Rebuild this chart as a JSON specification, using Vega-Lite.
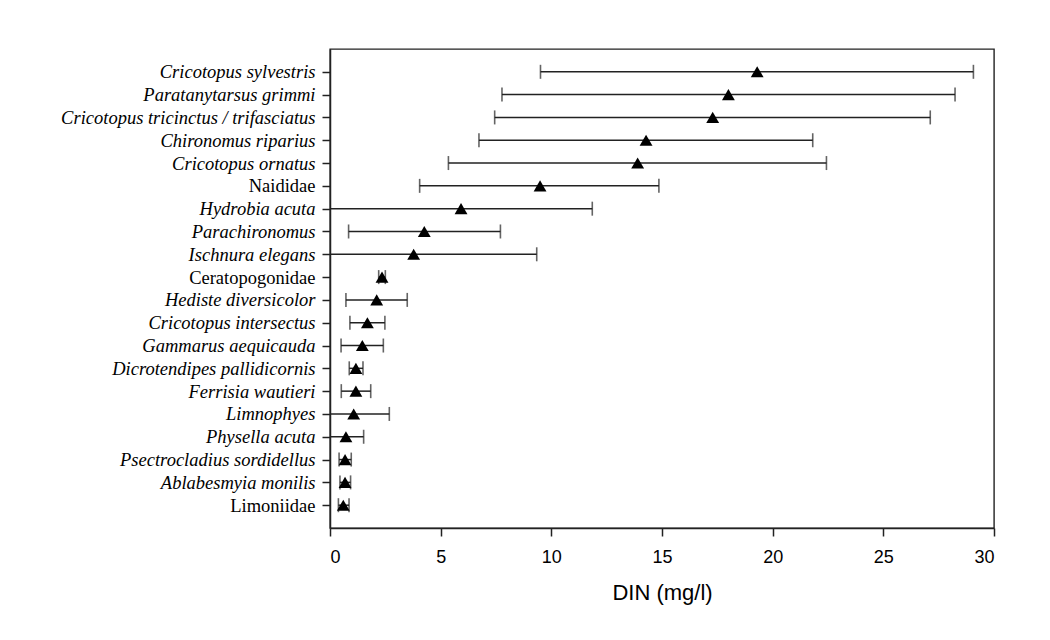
{
  "$schema": "https://vega.github.io/schema/vega-lite/v6.json",
  "autosize": {"type": "none"},
  "padding": {"left": 330, "top": 49, "right": 56, "bottom": 112},
  "width": 664,
  "height": 479,
  "background": "white",
  "config": {
    "view": {"stroke": "#222222", "strokeWidth": 1.4},
    "axis": {"grid": false, "domainColor": "#222222", "domainWidth": 1.5, "tickColor": "#222222", "tickWidth": 1.5, "tickSize": 8, "labelColor": "#000000", "titleColor": "#000000"}
  },
  "data": {
    "values": [
      {"taxon": "Cricotopus sylvestris", "mean": 19.3, "lo": 9.51, "hi": 29.07},
      {"taxon": "Paratanytarsus grimmi", "mean": 18.0, "lo": 7.77, "hi": 28.24},
      {"taxon": "Cricotopus tricinctus / trifasciatus", "mean": 17.29, "lo": 7.44, "hi": 27.12},
      {"taxon": "Chironomus riparius", "mean": 14.28, "lo": 6.73, "hi": 21.81},
      {"taxon": "Cricotopus ornatus", "mean": 13.9, "lo": 5.35, "hi": 22.43},
      {"taxon": "Naididae", "mean": 9.49, "lo": 4.05, "hi": 14.86},
      {"taxon": "Hydrobia acuta", "mean": 5.92, "lo": -0.01, "hi": 11.85},
      {"taxon": "Parachironomus", "mean": 4.26, "lo": 0.84, "hi": 7.7},
      {"taxon": "Ischnura elegans", "mean": 3.78, "lo": -1.78, "hi": 9.34},
      {"taxon": "Ceratopogonidae", "mean": 2.35, "lo": 2.2, "hi": 2.5},
      {"taxon": "Hediste diversicolor", "mean": 2.11, "lo": 0.72, "hi": 3.49},
      {"taxon": "Cricotopus intersectus", "mean": 1.69, "lo": 0.9, "hi": 2.48},
      {"taxon": "Gammarus aequicauda", "mean": 1.46, "lo": 0.5, "hi": 2.41},
      {"taxon": "Dicrotendipes pallidicornis", "mean": 1.17, "lo": 0.87, "hi": 1.49},
      {"taxon": "Ferrisia wautieri", "mean": 1.17, "lo": 0.51, "hi": 1.84},
      {"taxon": "Limnophyes", "mean": 1.07, "lo": -0.54, "hi": 2.68},
      {"taxon": "Physella acuta", "mean": 0.72, "lo": -0.08, "hi": 1.52},
      {"taxon": "Psectrocladius sordidellus", "mean": 0.68, "lo": 0.41, "hi": 0.96},
      {"taxon": "Ablabesmyia monilis", "mean": 0.68, "lo": 0.45, "hi": 0.93},
      {"taxon": "Limoniidae", "mean": 0.6, "lo": 0.38, "hi": 0.86}
    ]
  },
  "encoding": {
    "y": {
      "field": "taxon",
      "type": "nominal",
      "sort": null,
      "scale": {"type": "point", "padding": 1},
      "axis": {
        "title": null,
        "labelFont": "Liberation Serif",
        "labelFontSize": 18.5,
        "labelLimit": 0,
        "labelPadding": 7,
        "labelFontStyle": {"condition": {"test": "indexof(['Naididae','Ceratopogonidae','Limoniidae'], datum.value) >= 0", "value": "normal"}, "value": "italic"}
      }
    }
  },
  "layer": [
    {
      "mark": {"type": "rule", "color": "#222222", "strokeWidth": 1.5, "clip": true},
      "encoding": {
        "x": {
          "field": "lo",
          "type": "quantitative",
          "scale": {"domain": [0, 30], "nice": false, "zero": false},
          "axis": {
            "values": [0, 5, 10, 15, 20, 25, 30],
            "title": "DIN (mg/l)",
            "labelFont": "Liberation Sans",
            "labelFontSize": 18,
            "labelPadding": 12,
            "titleFont": "Liberation Sans",
            "titleFontSize": 22,
            "titleFontWeight": "normal",
            "titlePadding": 16
          }
        },
        "x2": {"field": "hi"}
      }
    },
    {
      "mark": {"type": "tick", "color": "#222222", "thickness": 1.6, "size": 14, "clip": true},
      "encoding": {"x": {"field": "lo", "type": "quantitative"}}
    },
    {
      "mark": {"type": "tick", "color": "#222222", "thickness": 1.6, "size": 14, "clip": true},
      "encoding": {"x": {"field": "hi", "type": "quantitative"}}
    },
    {
      "mark": {"type": "point", "shape": "triangle-up", "filled": true, "color": "#000000", "size": 165, "opacity": 1},
      "encoding": {"x": {"field": "mean", "type": "quantitative"}}
    }
  ]
}
